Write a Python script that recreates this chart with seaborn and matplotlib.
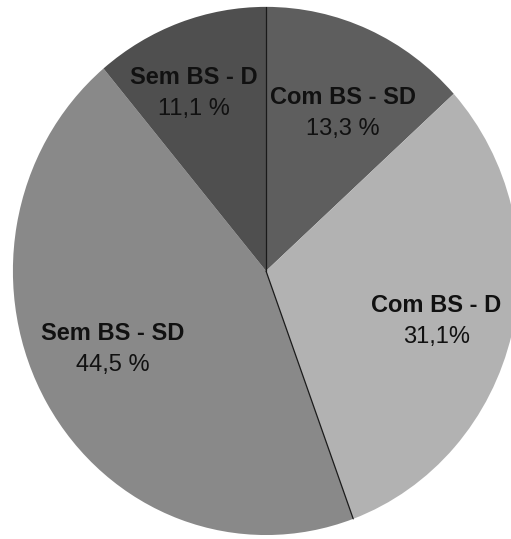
import numpy as np
import seaborn as sns
import matplotlib.pyplot as plt

sns.set_theme(style="white")
plt.rcParams['font.family'] = ['Liberation Sans', 'DejaVu Sans']

# data
categorias = ["Com BS - SD", "Com BS - D", "Sem BS - SD", "Sem BS - D"]
valores = [13.3, 31.1, 44.5, 11.1]
rotulos = ["13,3 %", "31,1%", "44,5 %", "11,1 %"]
cores = ["#5e5e5e", "#b2b2b2", "#898989", "#4f4f4f"]
dist = [0.67, 0.70, 0.675, 0.73]
ang_ajuste = [-3, -2, -4, 3]  # small nudges in degrees

fig = plt.figure(figsize=(5.11, 5.39), dpi=100)
ax = fig.add_axes([0, 0, 1, 1])

wedges, _ = ax.pie(valores, colors=cores, startangle=90, counterclock=False,
                   wedgeprops=dict(linewidth=0))

# thin dark separators only where the reference shows them
for w in (wedges[0], wedges[2]):
    a = np.deg2rad(w.theta2)
    ax.plot([0, np.cos(a)], [0, np.sin(a)], color="#1a1a1a", lw=0.9)

for w, nome, rot, d, da in zip(wedges, categorias, rotulos, dist, ang_ajuste):
    ang = np.deg2rad((w.theta1 + w.theta2) / 2 + da)
    x, y = d * np.cos(ang), d * np.sin(ang)
    ax.text(x, y + 0.06, nome, ha="center", va="center", fontsize=17,
            fontweight="bold", color="#111111")
    ax.text(x, y - 0.06, rot, ha="center", va="center", fontsize=17,
            color="#111111")

ax.set_aspect("auto")
ax.set_xlim(-1.051, 0.968)
ax.set_ylim(-1.015, 1.026)
ax.axis("off")

fig.savefig("out.png", dpi=100, facecolor="white")
